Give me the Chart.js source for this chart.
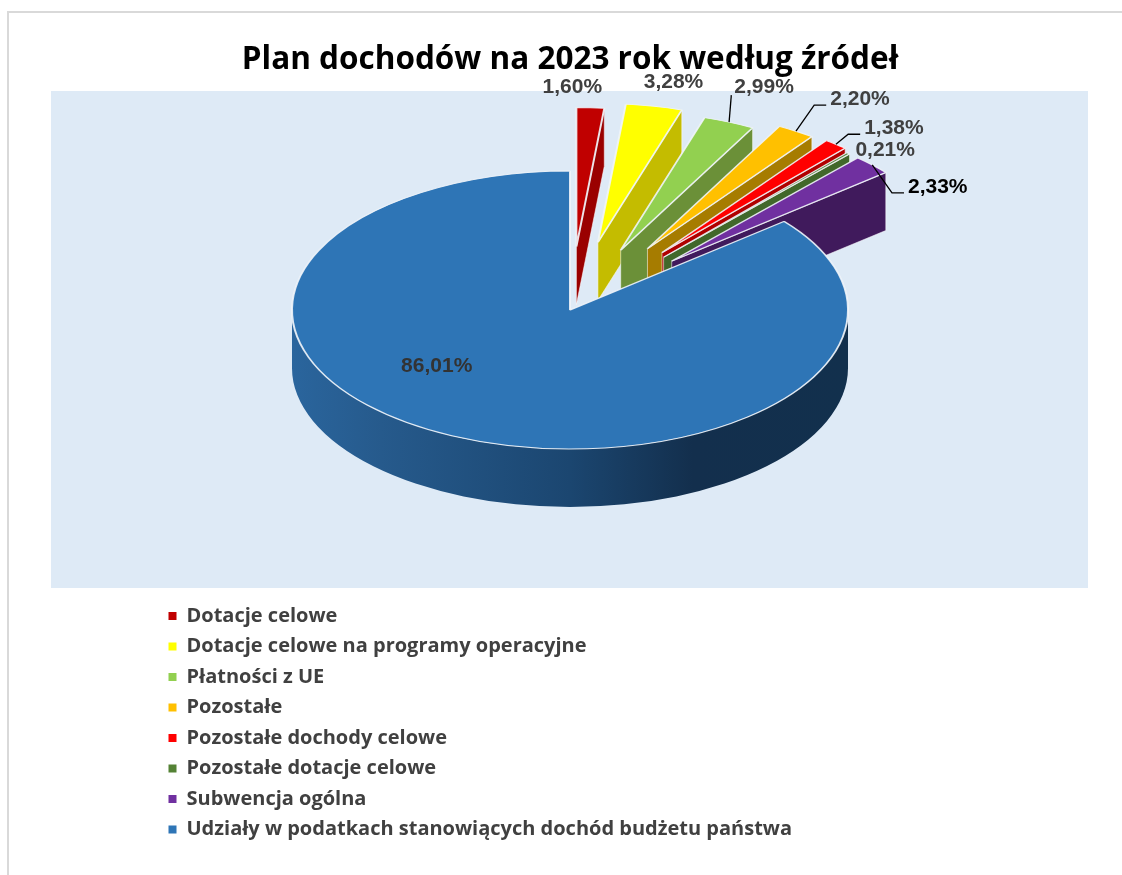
<!DOCTYPE html>
<html lang="pl">
<head>
<meta charset="utf-8">
<style>html,body{margin:0;padding:0;background:#fff}canvas{display:block}</style>
<script src="https://cdn.jsdelivr.net/npm/chart.js@4"></script>
</head>
<body>
<canvas id="c" width="1122" height="875"></canvas>
<script>
const titleText = 'Plan dochodów na 2023 rok według źródeł';
const categories = ['Dotacje celowe','Dotacje celowe na programy operacyjne','Płatności z UE','Pozostałe','Pozostałe dochody celowe','Pozostałe dotacje celowe','Subwencja ogólna','Udziały w podatkach stanowiących dochód budżetu państwa'];
const shares = [1.60,3.28,2.99,2.20,1.38,0.21,2.33,86.01];

const topColors = ['#C00000','#FFFF00','#92D050','#FFC000','#FF0000','#548235','#7030A0','#2E75B6'];
const sideColors = ['#9A0000','#C4BC00','#6B9038','#A67C00','#B00000','#41682A','#401A5C',null];
const explode = [127,138,130,145,147,141,141,0];
const labelColors = ['#404040','#404040','#404040','#404040','#404040','#404040','#000000','#333333'];
const labelNudgeX = [-18,19.4,35,64,58,37,65.5,-15];
const labelNudgeY = [-20.5,-24.5,-35,-32,-16,-3,22,-70];
const leaderKinds = ['','','straight','elbow','elbow','','elbow',''];

const TILT = 0.5, DEPTH = 58, RADIUS = 278;

function baseY(chart){ return (chart.chartArea.top+chart.chartArea.bottom)/2; }
function project(chart,x,y){ const c=baseY(chart); return {x, y:c+(y-c)*TILT}; }

const pie3d = {
  id:'pie3d',
  beforeDraw(chart){
    const ctx = chart.ctx;
    ctx.save();
    ctx.fillStyle='#fff'; ctx.fillRect(0,0,chart.width,chart.height);
    ctx.strokeStyle='#D9D9D9'; ctx.lineWidth=2;
    ctx.beginPath(); ctx.moveTo(8,875); ctx.lineTo(8,12); ctx.lineTo(1122,12); ctx.stroke();
    ctx.fillStyle='#DEEAF6'; ctx.fillRect(51,91,1037,497);
    ctx.restore();
  },
  afterLayout(chart){
    const l = chart.legend, w = l.width, h = l.height;
    l.left = 158; l.top = 595.5; l.right = l.left+w; l.bottom = l.top+h;
    l.adjustHitBoxes();
  },
  afterDatasetsUpdate(chart){
    // pull each slice out along its own middle angle
    chart.getDatasetMeta(0).data.forEach((a,i)=>{
      const h = (a.startAngle+a.endAngle)/2;
      a.x += Math.cos(h)*explode[i];
      a.y += Math.sin(h)*explode[i];
    });
  },
  beforeDatasetDraw(chart){
    const ctx = chart.ctx;
    const meta = chart.getDatasetMeta(0);
    ctx.save();
    meta.data.forEach((a,i)=>{
      const R = a.outerRadius;
      const apex = project(chart,a.x,a.y);
      // radial wall on the clockwise edge
      if(Math.cos(a.endAngle) > 0.001){
        const c = project(chart,a.x+Math.cos(a.endAngle)*R,a.y+Math.sin(a.endAngle)*R);
        ctx.beginPath();
        ctx.moveTo(apex.x,apex.y); ctx.lineTo(c.x,c.y);
        ctx.lineTo(c.x,c.y+DEPTH); ctx.lineTo(apex.x,apex.y+DEPTH); ctx.closePath();
        ctx.fillStyle = sideColors[i]; ctx.fill();
        ctx.strokeStyle='rgba(255,255,255,.55)'; ctx.lineWidth=1; ctx.stroke();
      }
      // outer rim on the near half
      const lo = Math.max(a.startAngle,0), hi = Math.min(a.endAngle,Math.PI);
      if(hi>lo){
        const g = ctx.createLinearGradient(a.x-R,0,a.x+R,0);
        g.addColorStop(0,'#2A659D'); g.addColorStop(.16,'#265A8C');
        g.addColorStop(.5,'#1B4670'); g.addColorStop(.72,'#132F4D'); g.addColorStop(1,'#12304D');
        ctx.beginPath();
        ctx.ellipse(apex.x,apex.y,R,R*TILT,0,lo,hi,false);
        ctx.ellipse(apex.x,apex.y+DEPTH,R,R*TILT,0,hi,lo,true);
        ctx.closePath();
        ctx.fillStyle = sideColors[i] || g; ctx.fill();
      }
    });
    ctx.restore();
    const cy = baseY(chart);
    ctx.save();
    ctx.translate(0,cy); ctx.scale(1,TILT); ctx.translate(0,-cy);
  },
  afterDatasetDraw(chart){ chart.ctx.restore(); },
  afterDatasetsDraw(chart){
    const ctx = chart.ctx;
    const meta = chart.getDatasetMeta(0);
    ctx.save();
    ctx.font = 'bold 21px "Liberation Sans", Arial, sans-serif';
    ctx.textAlign='center'; ctx.textBaseline='middle';
    shares.forEach((v,i)=>{
      const a = meta.data[i];
      const h = (a.startAngle+a.endAngle)/2, R = a.outerRadius;
      const p = project(chart,a.x+Math.cos(h)*R,a.y+Math.sin(h)*R);
      const lx = p.x+labelNudgeX[i], ly = p.y+labelNudgeY[i];
      const text = v.toFixed(2).replace('.',',')+'%';
      const halfW = ctx.measureText(text).width/2;
      ctx.strokeStyle='#000'; ctx.lineWidth=1.3;
      if(leaderKinds[i]==='straight'){
        ctx.beginPath(); ctx.moveTo(p.x,p.y); ctx.lineTo(lx-halfW-3,ly+8); ctx.stroke();
      }else if(leaderKinds[i]==='elbow'){
        const ex = lx-halfW-4, ey = ly+6;
        ctx.beginPath(); ctx.moveTo(p.x,p.y); ctx.lineTo(ex-12,ey); ctx.lineTo(ex,ey); ctx.stroke();
      }
      ctx.fillStyle = labelColors[i];
      ctx.fillText(text,lx,ly);
    });
    ctx.restore();
  }
};

new Chart(document.getElementById('c'),{
  type:'pie',
  data:{labels:categories,datasets:[{
    data:shares,
    backgroundColor:topColors,
    borderColor:'rgba(240,244,250,.9)',
    borderWidth:2,
    clip:false
  }]},
  options:{
    responsive:false,
    animation:false,
    radius:RADIUS,
    layout:{padding:{left:18,right:0,top:0,bottom:333.8}},
    plugins:{
      tooltip:{enabled:false},
      title:{display:true,text:titleText,color:'#000',
        font:{family:'"Open Sans"',weight:'bold',size:31.5,lineHeight:1.2},
        padding:{top:41,bottom:0}},
      legend:{display:true,position:'chartArea',align:'start',
        labels:{boxWidth:8,boxHeight:8,padding:10.5,color:'#404040',
          font:{family:'"Open Sans"',weight:'bold',size:20,lineHeight:1.2},
          generateLabels(chart){
            return Chart.overrides.pie.plugins.legend.labels.generateLabels(chart)
              .map(it=>Object.assign(it,{lineWidth:0}));
          }}}
    }
  },
  plugins:[pie3d]
});
</script>
</body>
</html>
